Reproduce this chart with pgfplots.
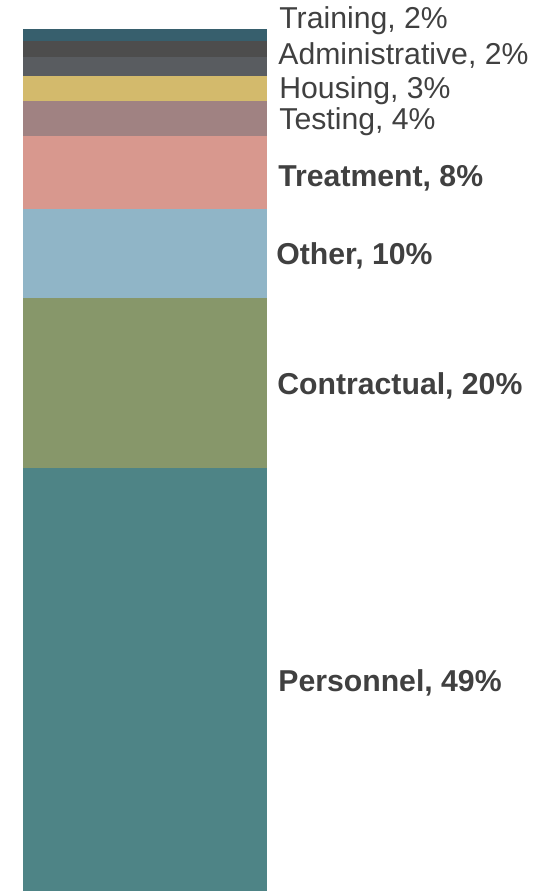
\documentclass[border=0pt]{standalone}
\usepackage{pgfplots}
\pgfplotsset{compat=1.18}
\usepackage{fontspec}
\setmainfont{Liberation Sans}
\definecolor{cPers}{HTML}{4E8486}
\definecolor{cCont}{HTML}{87976A}
\definecolor{cOther}{HTML}{90B5C7}
\definecolor{cTreat}{HTML}{D8988E}
\definecolor{cTest}{HTML}{A08282}
\definecolor{cHous}{HTML}{D3BA6C}
\definecolor{cGray}{HTML}{595C60}
\definecolor{cAdmin}{HTML}{4D4D4D}
\definecolor{cTrain}{HTML}{375F6D}
\definecolor{txt}{HTML}{404040}
\tikzset{lbl/.style={anchor=base west, inner sep=0pt, text=txt, font=\fontsize{15.1}{18}\selectfont}}
\begin{document}
\begin{tikzpicture}
\useasboundingbox (0,0) rectangle (272pt,445.5pt);
\begin{axis}[
  at={(11.5pt,0pt)}, anchor=south west,
  scale only axis, width=122pt, height=430.75pt,
  xmin=0, xmax=1, ymin=0, ymax=100,
  ybar stacked, bar width=122pt,
  hide axis, clip=false,
]
\addplot[fill=cPers, draw=none]  coordinates {(0.5,49.14)};
\addplot[fill=cCont, draw=none]  coordinates {(0.5,19.70)};
\addplot[fill=cOther, draw=none] coordinates {(0.5,10.27)};
\addplot[fill=cTreat, draw=none] coordinates {(0.5,8.50)};
\addplot[fill=cTest, draw=none]  coordinates {(0.5,4.10)};
\addplot[fill=cHous, draw=none]  coordinates {(0.5,2.90)};
\addplot[fill=cGray, draw=none]  coordinates {(0.5,2.24)};
\addplot[fill=cAdmin, draw=none] coordinates {(0.5,1.82)};
\addplot[fill=cTrain, draw=none] coordinates {(0.5,1.33)};
\node[lbl, xshift=6pt] at (axis cs:1,100.14) {Training, 2\%};
\node[lbl, xshift=5.5pt] at (axis cs:1,95.96) {Administrative, 2\%};
\node[lbl, xshift=6pt] at (axis cs:1,92.01) {Housing, 3\%};
\node[lbl, xshift=6pt] at (axis cs:1,88.42) {Testing, 4\%};
\node[lbl, xshift=5.5pt] at (axis cs:1,81.83) {\textbf{Treatment, 8\%}};
\node[lbl, xshift=4.5pt] at (axis cs:1,72.75) {\textbf{Other, 10\%}};
\node[lbl, xshift=5pt] at (axis cs:1,57.66) {\textbf{Contractual, 20\%}};
\node[lbl, xshift=5.5pt] at (axis cs:1,23.13) {\textbf{Personnel, 49\%}};
\end{axis}
\end{tikzpicture}
\end{document}
